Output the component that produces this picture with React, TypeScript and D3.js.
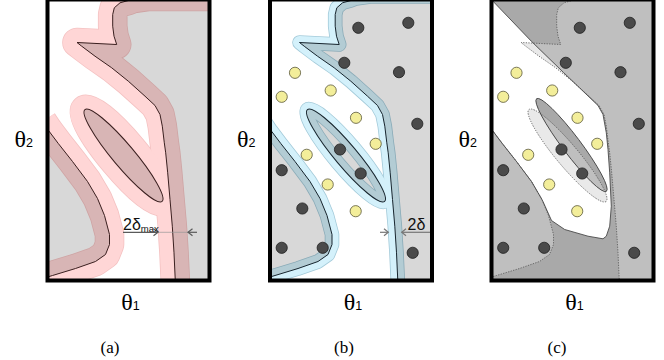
import * as d3 from 'd3';

type Pt = [number, number];

// all shapes in panel-local px: x from the frame's left edge, y from the top
const mainBoundary: Pt[] = [
  [175, -3], [100, -3], [86, -1], [80.8, 1], [72.5, 3.3], [66.8, 8.3], [65.2, 15],
  [65.2, 26.7], [66.5, 36.7], [69.2, 45], [29.5, 43], [34.2, 46.7], [47.5, 56.7],
  [64.2, 68.3], [80.8, 81.7], [97.5, 96.7], [107.5, 106], [112.5, 115], [114.8, 126.7],
  [116.8, 143.3], [118.2, 153.3], [120.2, 173.3], [122.5, 200], [124.8, 226.7],
  [126.5, 253.3], [128.2, 290],
];
const leftBoundary: Pt[] = [
  [-5, 122], [1, 131], [10.8, 144], [25, 162], [40, 182], [50, 199], [57, 216],
  [62, 235], [62, 245], [58, 255], [48, 262], [28, 269], [5, 276], [-5, 279],
];
const trueIsland = { cx: 76, cy: 156, rx: 60, ry: 11, angle: 50 };

// learned (classifier) boundary of panel (c)
const learnedBoundary: Pt[] = [
  [-4, -4], [39.8, 41.7], [72, 73], [106.5, 106], [111.5, 115], [114.8, 133.3],
  [116.5, 150], [118.2, 173.3], [119.8, 206.7], [118.2, 226.7], [114.8, 236.7],
  [111.5, 239.3], [96.5, 236.7], [73.2, 230], [60, 221], [51, 201], [40, 182],
  [25, 162], [10.8, 144], [1, 131], [-5, 122],
];
const learnedIsland = { cx: 80, cy: 145.5, rx: 58, ry: 9, angle: 53 };

const negPoints: Pt[] = [
  [88.3, 28.3], [138.3, 23.3], [74.3, 63.3], [129, 72.7], [147.3, 124.3], [70, 150],
  [90.7, 174], [11.7, 170.7], [32.3, 209], [11.7, 248.3], [52.7, 248.3], [142.7, 253.3],
];
const posPoints: Pt[] = [
  [25, 73.3], [11.7, 97.3], [60.7, 91], [86, 118.3], [105.7, 144.3], [36.7, 155.3],
  [57.7, 185], [85.7, 211.7],
];

const panelLefts = [47.5, 270, 491.5];
const panelLabels = ['(a)', '(b)', '(c)'];
const captionX = [110, 344, 557];

const FW = 162;
const FH = 281;
const serif = "'Liberation Serif', 'Times New Roman', serif";
const sans = "'Liberation Sans', Arial, sans-serif";

function Panel({ idx }: { idx: number }) {
  const left = panelLefts[idx];
  const x = d3.scaleLinear().domain([0, FW]).range([left, left + FW]);
  const y = d3.scaleLinear().domain([0, FH]).range([-0.5, FH - 0.5]);
  const line = d3.line<Pt>().x(d => x(d[0])).y(d => y(d[1]));

  const mainD = line(mainBoundary) as string;
  const mainFill = line([...mainBoundary, [175, 295], [175, -10]]) + 'Z';
  const leftD = line(leftBoundary) as string;
  const leftFill = line([...leftBoundary, [-10, 290], [-10, 115]]) + 'Z';
  const learnedD = line(learnedBoundary) + 'Z';
  const outer = `M${x(-10)},${y(-10)}H${x(FW + 10)}V${y(FH + 10)}H${x(-10)}Z`;

  const ell = (e: typeof trueIsland, props: any) => (
    <ellipse
      cx={x(e.cx)} cy={y(e.cy)} rx={e.rx} ry={e.ry}
      transform={`rotate(${e.angle} ${x(e.cx)} ${y(e.cy)})`}
      {...props}
    />
  );

  const clip = `inner-${idx}`;
  const lclip = `learned-${idx}`;

  const band = (width: number, edge: string, fill: string) => (
    <g style={{ mixBlendMode: 'multiply' }} fill="none" strokeLinejoin="round">
      {[mainD, leftD].map((d, i) => (
        <path key={'e' + i} d={d} stroke={edge} strokeWidth={width + 1.6} />
      ))}
      {ell(trueIsland, { fill: 'none', stroke: edge, strokeWidth: width + 1.6 })}
      {[mainD, leftD].map((d, i) => (
        <path key={'f' + i} d={d} stroke={fill} strokeWidth={width} />
      ))}
      {ell(trueIsland, { fill: 'none', stroke: fill, strokeWidth: width })}
    </g>
  );

  const points = (
    <g strokeWidth={0.8}>
      {negPoints.map((p, i) => (
        <circle key={'n' + i} cx={x(p[0])} cy={y(p[1])} r={5.6} fill="#4a4a4a" stroke="#1e1e1e" />
      ))}
      {posPoints.map((p, i) => (
        <circle key={'p' + i} cx={x(p[0])} cy={y(p[1])} r={5.6} fill="#f3ee9a" stroke="#5a5838" />
      ))}
    </g>
  );

  let body;
  if (idx < 2) {
    const lineColor = idx === 0 ? '#3a1f1f' : '#17252e';
    body = (
      <>
        <rect x={x(0)} y={y(0)} width={FW} height={FH} fill="#fff" />
        <g fill="#d8d8d8">
          <path d={mainFill} />
          <path d={leftFill} />
          {ell(trueIsland, {})}
        </g>
        {idx === 0 ? band(28, '#f4c2c2', '#ffd6d6') : band(13, '#a3cad9', '#d4f1fb')}
        <g fill="none" stroke={lineColor} strokeWidth={1} strokeLinejoin="round">
          <path d={mainD} />
          <path d={leftD} />
          {ell(trueIsland, { fill: 'none' })}
        </g>
        {idx === 1 && points}
      </>
    );
  } else {
    body = (
      <>
        <defs>
          <clipPath id={lclip}>
            <path d={outer + learnedD} clipRule="evenodd" />
            {ell(learnedIsland, {})}
          </clipPath>
        </defs>
        <rect x={x(0)} y={y(0)} width={FW} height={FH} fill="#fff" />
        <g fill="#e9e9e9">
          <path d={mainFill} />
          <path d={leftFill} />
          {ell(trueIsland, {})}
        </g>
        <g fill="#a9a9a9">
          <path d={outer + learnedD} fillRule="evenodd" />
          {ell(learnedIsland, {})}
        </g>
        <g fill="#bfbfbf" clipPath={`url(#${lclip})`}>
          <path d={mainFill} />
          <path d={leftFill} />
          {ell(trueIsland, {})}
        </g>
        <g fill="none" stroke="#555" strokeWidth={0.8} strokeDasharray="1.3 1.3">
          <path d={mainD} />
          <path d={leftD} />
          {ell(trueIsland, { fill: 'none' })}
        </g>
        <g fill="none" stroke="#4a4a4a" strokeWidth={0.9} strokeLinejoin="round">
          <path d={learnedD} />
          {ell(learnedIsland, { fill: 'none' })}
        </g>
        {points}
      </>
    );
  }

  const ay = y(232.8);
  return (
    <g>
      <defs>
        <clipPath id={clip}>
          <rect x={x(0)} y={y(0)} width={FW} height={FH} />
        </clipPath>
      </defs>
      <g clipPath={`url(#${clip})`}>
        {body}
        {idx === 0 && (
          <g stroke="#5a5a5a" strokeWidth={1.2} fill="none">
            <line x1={x(75.5)} x2={x(110.5)} y1={ay} y2={ay} />
            <line x1={x(110.5)} x2={x(140.5)} y1={ay} y2={ay} stroke="#999" strokeWidth={1} opacity={0.7} />
            <path d={`M${x(106)},${ay - 3.5}L${x(110.5)},${ay}L${x(106)},${ay + 3.5}`} />
            <path d={`M${x(145)},${ay - 3.5}L${x(140.5)},${ay}L${x(145)},${ay + 3.5}`} />
            <line x1={x(140.5)} x2={x(149.5)} y1={ay} y2={ay} />
          </g>
        )}
        {idx === 1 && (
          <g stroke="#777" strokeWidth={1.2} fill="none">
            <line x1={x(110)} x2={x(118.3)} y1={ay} y2={ay} />
            <path d={`M${x(114)},${ay - 3.5}L${x(118.3)},${ay}L${x(114)},${ay + 3.5}`} />
            <line x1={x(131.7)} x2={x(160)} y1={ay} y2={ay} />
            <path d={`M${x(136)},${ay - 3.5}L${x(131.7)},${ay}L${x(136)},${ay + 3.5}`} />
          </g>
        )}
      </g>
      {idx === 0 && (
        <text x={x(75.5)} y={y(230.5)} fontFamily={sans} fontSize={16} fill="#111">
          2δ<tspan fontSize={9.5} dy={1.5}>max</tspan>
        </text>
      )}
      {idx === 1 && (
        <text x={x(137.5)} y={y(230)} fontFamily={sans} fontSize={16} fill="#111">2δ</text>
      )}
      <rect x={x(0)} y={y(0)} width={FW} height={FH} fill="none" stroke="#000" strokeWidth={4} />
      <text x={x(-33)} y={147} fontFamily={serif} fontSize={24} fill="#000">
        θ<tspan fontFamily={sans} fontSize={12.5}>2</tspan>
      </text>
      <text x={x(FW / 2 + 2)} y={310} textAnchor="middle" fontFamily={serif} fontSize={24} fill="#000">
        θ<tspan fontFamily={sans} fontSize={12.5}>1</tspan>
      </text>
      <text x={captionX[idx]} y={353} textAnchor="middle" fontFamily={serif} fontSize={17} fill="#000">
        {panelLabels[idx]}
      </text>
    </g>
  );
}

export default function App() {
  return (
    <svg
      width={664}
      height={360}
      viewBox="0 0 664 360"
      style={{ position: 'absolute', left: 0, top: 0, background: '#fff' }}
    >
      {panelLabels.map((_, i) => (
        <Panel key={i} idx={i} />
      ))}
    </svg>
  );
}
